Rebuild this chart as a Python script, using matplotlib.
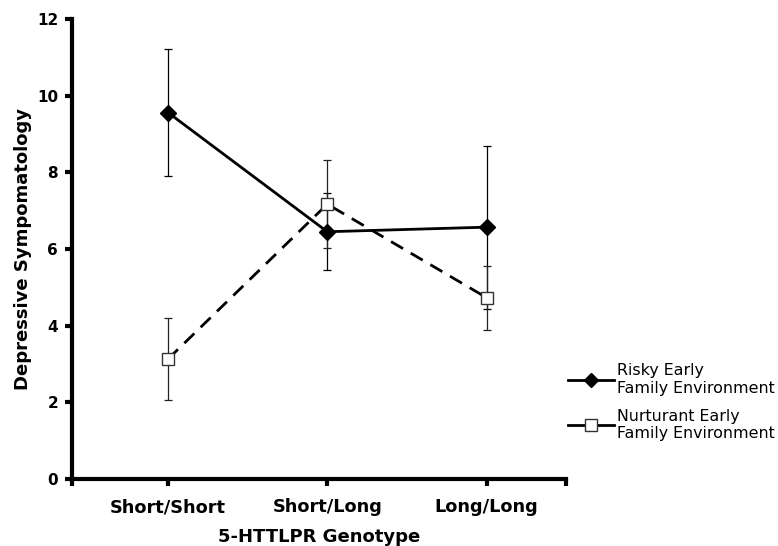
import matplotlib
matplotlib.use("Agg")
import matplotlib.pyplot as plt
from matplotlib.lines import Line2D

categories = ["Short/Short", "Short/Long", "Long/Long"]
risky = [9.56, 6.45, 6.57]
risky_err = [1.66, 1.00, 2.13]
nurturant = [3.13, 7.17, 4.73]
nurturant_err = [1.06, 1.15, 0.83]
yticks = [0, 2, 4, 6, 8, 10, 12]

plt.rcParams['font.family'] = ['DejaVu Sans']

fig = plt.figure(figsize=(7.78, 5.46), dpi=100)
ax = fig.add_axes([72/778, 1-479/546, (566-72)/778, (479-19)/546])

x = list(range(len(categories)))

ax.errorbar(x, risky, yerr=risky_err, fmt='none', ecolor='black',
            elinewidth=0.9, capsize=3, capthick=0.9, zorder=2)
ax.errorbar(x, nurturant, yerr=nurturant_err, fmt='none', ecolor='#222222',
            elinewidth=0.9, capsize=3, capthick=0.9, zorder=2)

ax.plot(x, risky, color='black', lw=2.0, marker='D', ms=8,
        mfc='black', mec='black', zorder=3)
ax.plot(x, nurturant, color='black', lw=2.0, ls=(0, (5, 3.2)), marker='s',
        ms=9, mfc='white', mec='#333333', mew=1.0, zorder=4)

xl = (72-168)/159.3
xr = (566-168)/159.3
ax.set_xlim(xl, xr)
ax.set_ylim(0, 12)

ax.set_xticks([xl] + x + [xr])
ax.set_xticklabels([""] + categories + [""], fontsize=12.8, fontweight='bold')
ax.set_yticks(yticks)
ax.set_yticklabels([str(v) for v in yticks], fontsize=11, fontweight='bold')

for s in ['top', 'right']:
    ax.spines[s].set_visible(False)
for s in ['left', 'bottom']:
    ax.spines[s].set_linewidth(3)
ax.tick_params(axis='both', width=3, length=5, direction='out', pad=5)
ax.tick_params(axis='x', pad=9)

ax.set_xlabel("5-HTTLPR Genotype", fontsize=13, fontweight='bold', labelpad=8)
ax.set_ylabel("Depressive Sympomatology", fontsize=13, fontweight='bold')
ax.yaxis.set_label_coords(-0.081, 0.5)

handles = [
    Line2D([], [], color='black', lw=2.0, marker='D', ms=7, mfc='black', mec='black'),
    Line2D([], [], color='black', lw=2.0, marker='s', ms=9, mfc='white', mec='#333333', mew=1.0),
]
labels = ["Risky Early\nFamily Environment", "Nurturant Early\nFamily Environment"]
fig.legend(handles, labels, loc='upper left', bbox_to_anchor=(562/778, 1-357/546),
           frameon=False, fontsize=11.4, handlelength=2.9, handletextpad=0.2,
           labelspacing=0.82, borderaxespad=0)

fig.savefig("out.png", dpi=100)
